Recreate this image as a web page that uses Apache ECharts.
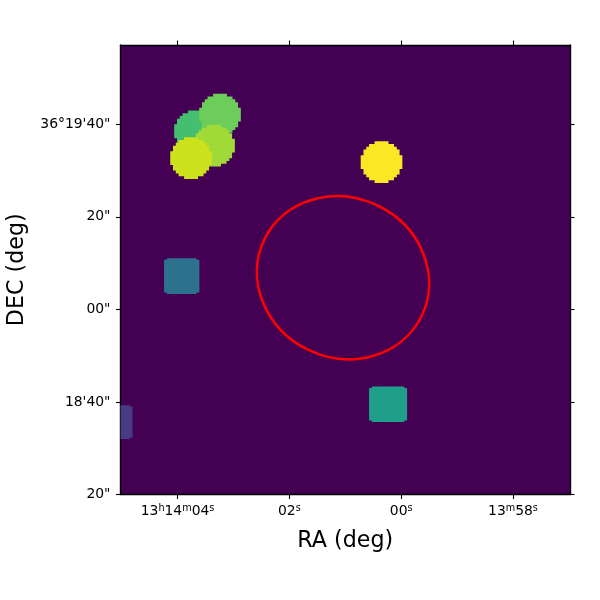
<!DOCTYPE html>
<html><head><meta charset="utf-8">
<style>html,body{margin:0;padding:0;background:#fff}#c{width:600px;height:600px}</style>
<script src="https://cdn.jsdelivr.net/npm/echarts@6/dist/echarts.min.js"></script>
</head><body><div id="c"></div>
<script>
// Axis ticks (RA in seconds offset from 13h14m00s, DEC in arcsec above 36d18'20")
const raTicks = [4, 2, 0, -2];
const raTickLabels = ['{n|13}{s|h}{n|14}{s|m}{n|04}{s|s}', '{n|02}{s|s}', '{n|00}{s|s}', '{n|13}{s|m}{n|58}{s|s}'];
const decTicks = [0, 20, 40, 60, 80];
const decTickLabels = ['20"', "18'40\"", '00"', '20"', "36°19'40\""];
// Sources: RA (s), DEC ("), half width ("), half height ("), shape, colour (draw order = value)
const srcRa    = [5.109, 3.925, 0.234, 3.687, 3.24, 3.347, 3.758, 0.351];
const srcDec   = [15.66, 47.2, 19.5, 78.5, 82.1, 75.4, 72.7, 71.84];
const srcHalfW = [3.68, 3.82, 4.11, 4.55, 4.55, 4.55, 4.55, 4.55];
const srcHalfH = [3.65, 3.84, 3.83, 4.55, 4.55, 4.55, 4.55, 4.55];
const srcShape = ['box', 'box', 'box', 'disk', 'disk', 'disk', 'disk', 'disk'];
const srcColor = ['#483a84', '#2d718e', '#1f9e89', '#44bf70', '#6ccd5a', '#a0da39', '#cde11d', '#fde725'];
// Red region: centre RA (s), DEC ("), semi axes ("), tilt (deg)
const regionRa = [1.04], regionDec = [46.86], regionA = [18.9], regionB = [17.3], regionTilt = [-26];
const bg = '#440154';
const cellArcsec = 0.6;

const chart = echarts.init(document.getElementById('c'), null, {renderer:'canvas'});
const font = 'DejaVu Sans';
const lineS = {show:true, onZero:false, lineStyle:{color:'#000', width:1.4}};
const tickS = v => ({show:true, length:4.5, inside:false, customValues:v, lineStyle:{color:'#000', width:1.1}});

function renderSource(params, api){
  const i = params.dataIndex;
  const cs = params.coordSys;
  const c = api.coord([api.value(0), api.value(1)]);
  const k = api.size([0, 1])[1];
  const hw = api.value(2), hh = api.value(3);
  const step = cellArcsec;
  const right = [];
  if (srcShape[i] === 'disk') {
    const n = Math.floor(hh / step - 0.5);
    for (let r = -n; r <= n; r++){
      const y = r * step;
      const half = (Math.round(hw * Math.sqrt(1 - (y*y)/(hh*hh)) / step - 0.5) + 0.5) * step;
      right.push([half, y - step/2], [half, y + step/2]);
    }
  } else {
    const nw = 0.6, nh = 0.3;
    right.push([hw-nw, -hh], [hw-nw, -hh+nh], [hw, -hh+nh], [hw, hh-nh], [hw-nw, hh-nh], [hw-nw, hh]);
  }
  const clampX = x => Math.max(cs.x, Math.min(cs.x + cs.width, x));
  const pts = right.map(p => [clampX(c[0] + p[0]*k), c[1] + p[1]*k]);
  for (let j = right.length - 1; j >= 0; j--) pts.push([clampX(c[0] - right[j][0]*k), c[1] + right[j][1]*k]);
  return {type:'polygon', shape:{points:pts}, style:{fill:srcColor[i]}, silent:true};
}
function renderRegion(params, api){
  const c = api.coord([api.value(0), api.value(1)]);
  const k = api.size([0, 1])[1];
  return {type:'ellipse', x:c[0], y:c[1], rotation: api.value(4) * Math.PI / 180,
    shape:{cx:0, cy:0, rx:api.value(2)*k, ry:api.value(3)*k},
    style:{fill:null, stroke:'#ff0000', lineWidth:2.6}, silent:true};
}

chart.setOption({
  animation:false,
  backgroundColor:'#fff',
  grid:{left:120.5, right:30, top:45, bottom:105.5, show:true, backgroundColor:bg, borderWidth:0, outerBoundsMode:'none', containLabel:false},
  xAxis:[{type:'value', inverse:true, min:-3.02, max:5.02, position:'bottom', splitLine:{show:false},
      name:'RA (deg)', nameLocation:'center', nameGap:36, nameTextStyle:{fontFamily:font, fontSize:22.2, color:'#000'},
      axisLine:lineS, axisTick:tickS(raTicks),
      axisLabel:{show:true, customValues:raTicks, margin:9, color:'#000', fontFamily:font, fontSize:13.9,
        formatter:v => raTickLabels[raTicks.indexOf(v)] ?? '',
        rich:{n:{fontFamily:font, fontSize:13.9, color:'#000', verticalAlign:'bottom'}, s:{fontFamily:font, fontSize:9.7, color:'#000', verticalAlign:'top', padding:[0,0,5,0]}}}},
    {type:'value', inverse:true, min:-3.02, max:5.02, position:'top', splitLine:{show:false},
      axisLine:lineS, axisTick:tickS(raTicks), axisLabel:{show:false}}],
  yAxis:[{type:'value', min:0, max:97.15, position:'left', splitLine:{show:false},
      name:'DEC (deg)', nameLocation:'center', nameGap:92, nameRotate:90, nameTextStyle:{fontFamily:font, fontSize:22.2, color:'#000'},
      axisLine:lineS, axisTick:tickS(decTicks),
      axisLabel:{show:true, customValues:decTicks, margin:10, padding:[2,0,0,0], color:'#000', fontFamily:font, fontSize:13.9,
        formatter:v => decTickLabels[decTicks.indexOf(v)] ?? ''}},
    {type:'value', min:0, max:97.15, position:'right', splitLine:{show:false},
      axisLine:lineS, axisTick:tickS(decTicks), axisLabel:{show:false}}],
  series:[
    {type:'custom', coordinateSystem:'cartesian2d', renderItem:renderSource, clip:true, z:2,
      data:srcRa.map((r,i)=>[r, srcDec[i], srcHalfW[i], srcHalfH[i]])},
    {type:'custom', coordinateSystem:'cartesian2d', renderItem:renderRegion, z:3,
      data:regionRa.map((r,i)=>[r, regionDec[i], regionA[i], regionB[i], regionTilt[i]])}
  ]
});
</script></body></html>
